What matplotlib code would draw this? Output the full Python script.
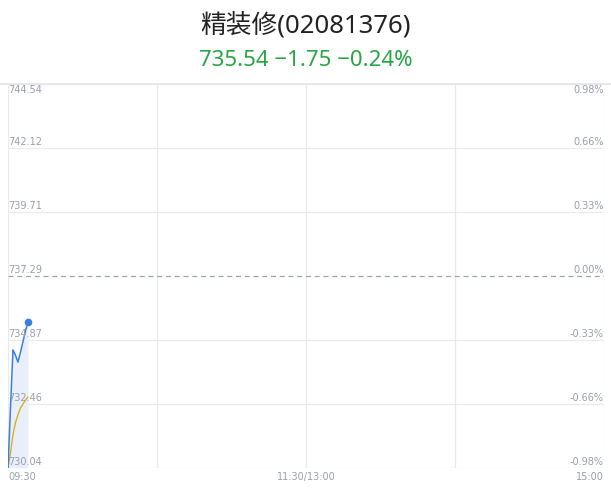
import matplotlib
matplotlib.use('Agg')
import matplotlib.pyplot as plt

# ---- data
title = u'精装修(02081376)'
subtitle = u'735.54 \u22121.75 \u22120.24%'

minutes = [0, 1, 2, 3, 4, 5, 6, 7, 8]
price = [730.04, 732.3, 734.5, 734.3, 734.04, 734.4, 734.8, 735.2, 735.54]
avg_price = [730.04, 730.6, 731.3, 731.75, 732.05, 732.3, 732.45, 732.6, 732.72]

y_ticks = [744.54, 742.12, 739.71, 737.29, 734.87, 732.46, 730.04]
pct_labels = ['0.98%', '0.66%', '0.33%', '0.00%', '-0.33%', '-0.66%', '-0.98%']
prev_close = 737.29

x_ticks = [0, 120, 240]
x_labels = ['09:30', '11:30/13:00', '15:00']
x_grid = [0, 60, 120, 180, 240]

# ---- style
c_grid = '#e9eaef'
c_label = '#9a9eae'
c_line = '#3a7de3'
c_avg = '#d6b21e'
c_fill = '#e8effb'
c_green = '#27a644'
fam = ['Noto Sans', 'Noto Sans CJK SC', 'DejaVu Sans']

fig = plt.figure(figsize=(6.11, 4.92), dpi=100)
W, H = 611.0, 492.0
ax = fig.add_axes([8 / W, 24 / H, 596 / W, 384 / H])

ax.set_xlim(0, 240)
ax.set_ylim(y_ticks[-1], y_ticks[0])
ax.axis('off')

# grid
for xv in x_grid:
    ax.axvline(xv, color=c_grid, lw=0.9, zorder=0)
for yv in y_ticks:
    if yv == prev_close:
        continue
    ax.axhline(yv, color=c_grid, lw=0.9, zorder=0)
ax.axhline(prev_close, color='#9ea3b5', lw=0.9, dashes=[4, 3], zorder=1)

# top separator line across figure
fig.add_artist(plt.Line2D([0, 1], [408 / H, 408 / H], color='#e3e4ea', lw=1.2))

# series
ax.fill_between(minutes, price, y_ticks[-1], color=c_fill, lw=0, zorder=1)
ax.plot(minutes, price, color=c_line, lw=1.1, zorder=3)
ax.plot(minutes, avg_price, color=c_avg, lw=1.0, zorder=2)
ax.plot(minutes[-1], price[-1], 'o', color=c_line, ms=4.5, zorder=4)

# y labels
for i, (yv, pl) in enumerate(zip(y_ticks, pct_labels)):
    va = 'top' if i == 0 else 'bottom'
    off = -1 if i == 0 else 1
    ax.annotate('%.2f' % yv, (0, yv), xytext=(0, off), textcoords='offset points',
                ha='left', va=va, fontsize=7, color=c_label)
    ax.annotate(pl, (240, yv), xytext=(0, off), textcoords='offset points',
                ha='right', va=va, fontsize=7, color=c_label)

# x labels
for xv, xl, ha in zip(x_ticks, x_labels, ['left', 'center', 'right']):
    ax.annotate(xl, (xv, y_ticks[-1]), xytext=(0, -3), textcoords='offset points',
                ha=ha, va='top', fontsize=7, color=c_label)

# titles
fig.text(0.5, 1 - 25 / H, title, ha='center', va='center', fontsize=18.5,
         color='#222222', family=fam, weight='medium')
fig.text(0.5, 1 - 60 / H, subtitle, ha='center', va='center', fontsize=16,
         color=c_green, family=fam)

plt.savefig('out.png', dpi=100)
